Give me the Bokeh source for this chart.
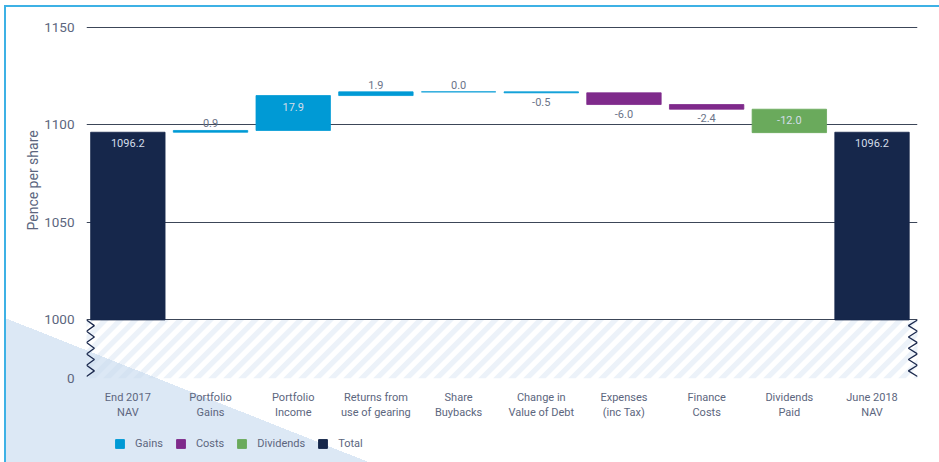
from bokeh.plotting import figure
from bokeh.layouts import column
from bokeh.models import (ColumnDataSource, FixedTicker, Range1d, Legend, LegendItem, Title)
from bokeh.transform import dodge
from bokeh.core.properties import value as V
from bokeh.embed import file_html
from bokeh.resources import INLINE

# ---- data ----
categories = ["End 2017\nNAV", "Portfolio\nGains", "Portfolio\nIncome", "Returns from\nuse of gearing",
              "Share\nBuybacks", "Change in\nValue of Debt", "Expenses\n(inc Tax)", "Finance\nCosts",
              "Dividends\nPaid", "June 2018\nNAV"]
values = [1096.2, 0.9, 17.9, 1.9, 0.0, -0.5, -6.0, -2.4, -12.0, 1096.2]
kinds = ["Total", "Gains", "Gains", "Gains", "Gains", "Gains", "Costs", "Costs", "Dividends", "Total"]
y_ticks = [1000, 1050, 1100, 1150]
y_zero_label = "0"
legend_names = ["Gains", "Costs", "Dividends", "Total"]

COLORS = {"Gains": "#009ad5", "Costs": "#7f2a8b", "Dividends": "#6aaa5c", "Total": "#16274b"}
FONT = "Roboto"
TXT = "#5c667e"
BREAK = 1000.0          # axis break level
ZERO_POS = 970.0        # where "0" is drawn below the break

WIDTH, HEIGHT, LEG_H = 939, 425, 37
ML, MR, MT, MB = 86, 22, 17, 47
X0, X1 = -0.5, 9.55
Y1 = 1155

# ---- waterfall geometry ----
bottoms, tops = [], []
run = 0.0
for v, k in zip(values, kinds):
    if k == "Total":
        bottoms.append(BREAK); tops.append(v); run = v
    else:
        b, t = run, run + v
        bottoms.append(min(b, t)); tops.append(max(b, t)); run = t

W = 0.9
p = figure(width=WIDTH, height=HEIGHT, output_backend="svg", toolbar_location=None,
           x_range=Range1d(X0, X1), y_range=Range1d(ZERO_POS, Y1))
p.min_border_left = ML
p.min_border_right = MR
p.min_border_top = MT
p.min_border_bottom = MB
p.outline_line_color = None
p.background_fill_alpha = 0
p.border_fill_alpha = 0

# hatched break zone (diagonal stripes)
px_x = (WIDTH - ML - MR) / (X1 - X0)
px_y = (HEIGHT - MT - MB) / (Y1 - ZERO_POS)
shift = (BREAK - ZERO_POS) * px_y / px_x
period = 15 / px_x
sw = 7.5 / px_x
xs, ys = [], []
x = X0 - shift
while x < X1:
    xs.append([x, x + sw, x + sw + shift, x + shift])
    ys.append([ZERO_POS, ZERO_POS, BREAK, BREAK])
    x += period
p.patches(xs=xs, ys=ys, fill_color="#c8daef", fill_alpha=0.35, line_color=None)

# bars by kind
sources = {}
for k in legend_names:
    idx = [i for i in range(len(values)) if kinds[i] == k]
    sources[k] = ColumnDataSource(dict(x=idx, b=[bottoms[i] for i in idx], t=[tops[i] for i in idx]))
    p.quad(left=dodge("x", -W / 2), right=dodge("x", W / 2), bottom="b", top="t",
           source=sources[k], fill_color=COLORS[k], line_color=COLORS[k], line_width=0.8)

# labels
in_x, in_y, in_t = [], [], []
up_x, up_y, up_t = [], [], []
dn_x, dn_y, dn_t = [], [], []
for i, v in enumerate(values):
    s = f"{v:.1f}"
    if kinds[i] == "Total" or abs(v) > 8:
        in_x.append(i); in_y.append(tops[i]); in_t.append(s)
    elif v >= 0:
        up_x.append(i); up_y.append(tops[i]); up_t.append(s)
    else:
        dn_x.append(i); dn_y.append(bottoms[i]); dn_t.append(s)

p.text(x=in_x, y=in_y, text=in_t, text_align="center", text_baseline="top", y_offset=7,
       text_font=V(FONT), text_font_size="11px", text_color="#d3dde9")
p.text(x=up_x, y=up_y, text=up_t, text_align="center", text_baseline="bottom", y_offset=-3,
       text_font=V(FONT), text_font_size="11px", text_color="#6b7489")
p.text(x=dn_x, y=dn_y, text=dn_t, text_align="center", text_baseline="top", y_offset=5,
       text_font=V(FONT), text_font_size="11px", text_color="#6b7489")

# axis break zigzags
n = 11
zy = [BREAK - j * (BREAK - ZERO_POS - 1) / (n - 1) for j in range(n)]
p.line(x=[X0 + (0.0 if j % 2 == 0 else 0.095) for j in range(n)], y=zy,
       line_color="#1d2b4f", line_width=1.3)
p.line(x=[X1 - (0.0 if j % 2 == 0 else 0.11) for j in range(n)], y=zy,
       line_color="#1d2b4f", line_width=1.3)

# axes
p.yaxis.ticker = FixedTicker(ticks=[ZERO_POS] + y_ticks)
p.yaxis.major_label_overrides = {ZERO_POS: y_zero_label}
p.yaxis.axis_line_color = None
p.yaxis.major_tick_line_color = None
p.yaxis.minor_tick_line_color = None
p.yaxis.major_label_standoff = 6
p.yaxis.major_label_text_font = FONT
p.yaxis.major_label_text_font_size = "13.5px"
p.yaxis.major_label_text_color = TXT

p.xaxis.ticker = FixedTicker(ticks=list(range(len(categories))))
p.xaxis.major_label_overrides = {i: c for i, c in enumerate(categories)}
p.xaxis.axis_line_color = None
p.xaxis.major_tick_line_color = None
p.xaxis.minor_tick_line_color = None
p.xaxis.major_label_standoff = 6
p.xaxis.major_label_text_font = FONT
p.xaxis.major_label_text_font_size = "11px"
p.xaxis.major_label_text_color = TXT

p.xgrid.grid_line_color = None
p.ygrid.ticker = FixedTicker(ticks=y_ticks)
p.ygrid.grid_line_color = "#3c4658"
p.ygrid.grid_line_width = 1

ylab = Title(text="Pence per share", align="left", offset=148, standoff=2,
             text_font=FONT, text_font_size="14px", text_font_style="normal", text_color=TXT)
p.add_layout(ylab, "left")

# ---- legend strip (bars re-used, far outside this strip's ranges) ----
q = figure(width=WIDTH, height=LEG_H, output_backend="svg", toolbar_location=None,
           x_range=Range1d(-100, -99), y_range=Range1d(0, 1), min_border=0)
q.outline_line_color = None
q.background_fill_alpha = 0
q.border_fill_alpha = 0
q.axis.visible = False
q.grid.visible = False
items = []
for k in legend_names:
    r = q.quad(left=dodge("x", -W / 2), right=dodge("x", W / 2), bottom="b", top="t",
               source=sources[k], fill_color=COLORS[k], line_color=COLORS[k])
    items.append(LegendItem(label=k, renderers=[r]))
legend = Legend(items=items, orientation="horizontal", location=(28, 12), padding=0, margin=0,
                spacing=12, label_standoff=10, glyph_width=11, glyph_height=11, label_height=11,
                label_text_font=FONT, label_text_font_size="11px", label_text_color=TXT,
                label_text_baseline="middle", background_fill_alpha=0, border_line_color=None)
q.add_layout(legend)

BLUE = "#3db1e5"
layout = column(p, q, spacing=0)
layout.styles = {
    "background": (
        f"linear-gradient({BLUE}, {BLUE}) 5px 5px / 934px 2px no-repeat, "
        f"linear-gradient({BLUE}, {BLUE}) 4px 5px / 2px 457px no-repeat, "
        "linear-gradient(to top right, #dce8f5 50%, rgba(220,232,245,0) 50%) 5px 318px / 366px 145px no-repeat, "
        "#ffffff"
    )
}

open("out.html", "w").write(file_html(layout, INLINE))
